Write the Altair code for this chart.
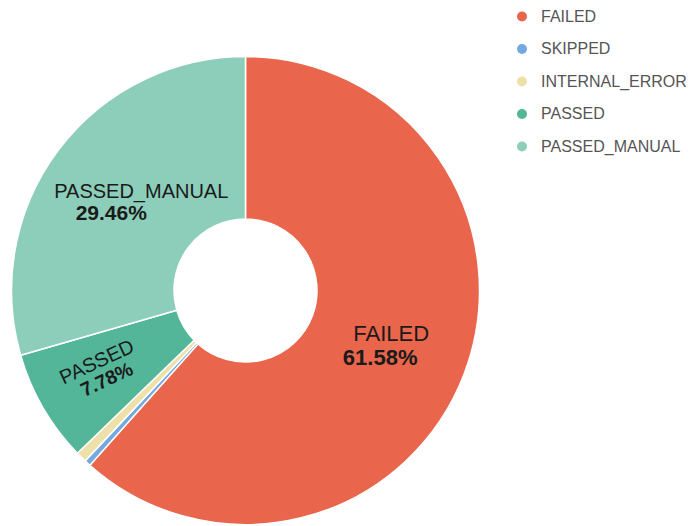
import math
import altair as alt
import pandas as pd

# ---- data ----
categories = ["FAILED", "SKIPPED", "INTERNAL_ERROR", "PASSED", "PASSED_MANUAL"]
percents = [61.58, 0.44, 0.74, 7.78, 29.46]
colors = ["#E9654B", "#74A9E0", "#EDE0A8", "#54B699", "#8DCEBB"]
labelled = ["FAILED", "PASSED", "PASSED_MANUAL"]

df = pd.DataFrame({"status": categories, "pct": percents,
                   "idx": list(range(len(categories)))})

# ---- layout / style ----
CX, CY = 237.5, 282.5
R_OUT, R_IN, R_LABEL = 234, 71.5, 158
FONT = "Liberation Sans"
label_style = {
    "FAILED": dict(size=22, psize=22, angle=0, ndx=-2, ndy=-13, pdx=-13, pdy=11),
    "PASSED": dict(size=20, psize=19.5, angle=335, ndx=-7.6, ndy=-11.5, pdx=-6, pdy=8.5),
    "PASSED_MANUAL": dict(size=20, psize=21, angle=0, ndx=22, ndy=-3, pdx=-8, pdy=19),
}

theta_scale = alt.Scale(domain=[0, 100], range=[0, 2 * math.pi])

base = alt.Chart(df).transform_window(
    cum="sum(pct)", sort=[alt.SortField("idx", order="ascending")], frame=[None, 0]
).transform_calculate(
    start="datum.cum - datum.pct",
    mid="datum.cum - datum.pct / 2",
    pct_text="format(datum.pct, '.2f') + '%'",
)

arcs = base.mark_arc(outerRadius=R_OUT, innerRadius=R_IN,
                     stroke="white", strokeWidth=1.5).encode(
    theta=alt.Theta("start:Q", scale=theta_scale, stack=False),
    theta2="cum:Q",
    color=alt.Color(
        "status:N",
        scale=alt.Scale(domain=categories, range=colors),
        legend=alt.Legend(
            title=None, orient="none", legendX=506, legendY=0.5,
            symbolType="circle", symbolSize=100, symbolOpacity=1,
            symbolStrokeWidth=0, labelFontSize=16, labelFont=FONT,
            labelColor="#555555", labelOffset=11, rowPadding=16.5,
            padding=0, labelLimit=300,
        ),
    ),
    x=alt.value(CX), y=alt.value(CY),
)

layers = [arcs]
for cat in labelled:
    s = label_style[cat]
    sub = base.transform_filter(alt.datum.status == cat)
    name = sub.mark_text(radius=R_LABEL, font=FONT, fontSize=s["size"],
                         color="#1a1a1a", angle=s["angle"], dx=s["ndx"], dy=s["ndy"],
                         align="center", baseline="middle").encode(
        theta=alt.Theta("mid:Q", scale=theta_scale, stack=False),
        text="status:N", x=alt.value(CX), y=alt.value(CY))
    pct = sub.mark_text(radius=R_LABEL, font=FONT, fontSize=s["psize"], fontWeight="bold",
                        color="#1a1a1a", angle=s["angle"], dx=s["pdx"], dy=s["pdy"],
                        align="center", baseline="middle").encode(
        theta=alt.Theta("mid:Q", scale=theta_scale, stack=False),
        text="pct_text:N", x=alt.value(CX), y=alt.value(CY))
    layers += [name, pct]

chart = alt.layer(*layers).properties(
    width=681, height=517, autosize="none", padding=0, background="white"
).configure_view(stroke=None)

chart.save("out.html", embed_options={"renderer": "svg", "actions": False})
